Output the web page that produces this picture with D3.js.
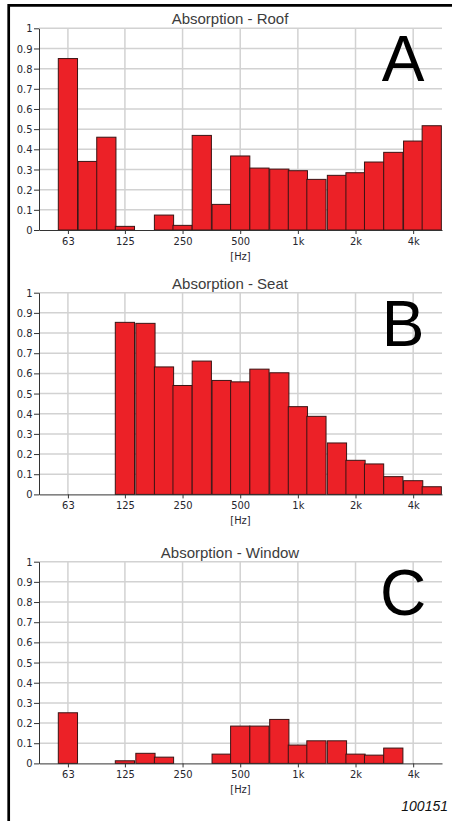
<!DOCTYPE html>
<html>
<head>
<meta charset="utf-8">
<script src="https://cdn.jsdelivr.net/npm/d3@7"></script>
<style>
  html, body { margin: 0; padding: 0; background: #fff; }
  svg { display: block; }
</style>
</head>
<body>
<svg id="chart" width="452" height="821"></svg>
<script>
// One-third-octave band centres (Hz)
const bandCenters = [63, 80, 100, 125, 160, 200, 250, 315, 400, 500, 630, 800, 1000, 1250, 1600, 2000, 2500, 3150, 4000, 5000];

// Absorption coefficients per band
const roofAbsorption   = [0.85, 0.34, 0.46, 0.018, 0, 0.074, 0.023, 0.469, 0.127, 0.367, 0.307, 0.302, 0.294, 0.251, 0.271, 0.284, 0.337, 0.385, 0.441, 0.517];
const seatAbsorption   = [0, 0, 0, 0.853, 0.848, 0.632, 0.540, 0.661, 0.565, 0.558, 0.621, 0.603, 0.435, 0.387, 0.255, 0.169, 0.151, 0.088, 0.068, 0.038];
const windowAbsorption = [0.251, 0, 0, 0.013, 0.050, 0.031, 0, 0, 0.046, 0.185, 0.185, 0.218, 0.091, 0.112, 0.112, 0.046, 0.041, 0.076, 0, 0];

const panelTitles  = ["Absorption - Roof", "Absorption - Seat", "Absorption - Window"];
const panelLetters = ["A", "B", "C"];

// Octave tick marks on the frequency axis
const xTickFreqs  = [63, 125, 250, 500, 1000, 2000, 4000];
const xTickLabels = ["63", "125", "250", "500", "1k", "2k", "4k"];
const yTickValues = [0, 0.1, 0.2, 0.3, 0.4, 0.5, 0.6, 0.7, 0.8, 0.9, 1];
const yTickLabels = ["0", "0.1", "0.2", "0.3", "0.4", "0.5", "0.6", "0.7", "0.8", "0.9", "1"];
const axisUnit = "[Hz]";
const figureId = "100151";

const series = [roofAbsorption, seatAbsorption, windowAbsorption];

// Layout
const plotLeft = 39, plotRight = 442, plotHeight = 201.7;
const panelTops = [28.3, 292.7, 561.7];
const bandHalf = Math.pow(2, 1 / 6);

const svg = d3.select("#chart");

// Outer frame (left and top edges)
svg.append("path")
  .attr("d", "M8.7,821 V5.3 H452")
  .attr("fill", "none")
  .attr("stroke", "#000")
  .attr("stroke-width", 2.7);

const x = d3.scaleLog().domain([44.5, 5657]).range([plotLeft, plotRight]);

const labelFont = "'DejaVu Sans Condensed', 'Liberation Sans', Arial, sans-serif";

series.forEach((values, i) => {
  const top = panelTops[i];
  const bottom = top + plotHeight;
  const y = d3.scaleLinear().domain([0, 1]).range([bottom, top]);
  const g = svg.append("g");

  // Grid
  g.append("g").selectAll("line.h")
    .data(yTickValues.filter(v => v > 0))
    .join("line")
    .attr("x1", plotLeft).attr("x2", plotRight)
    .attr("y1", d => y(d)).attr("y2", d => y(d))
    .attr("stroke", "#d2d2d2").attr("stroke-width", 1.5);
  g.append("g").selectAll("line.v")
    .data(xTickFreqs)
    .join("line")
    .attr("x1", d => x(d)).attr("x2", d => x(d))
    .attr("y1", top).attr("y2", bottom)
    .attr("stroke", "#d2d2d2").attr("stroke-width", 1.5);

  // Bars
  const bars = bandCenters.map((f, k) => ({ f, v: values[k] })).filter(d => d.v > 0);
  g.append("g").selectAll("rect")
    .data(bars)
    .join("rect")
    .attr("x", d => x(d.f / bandHalf))
    .attr("width", d => x(d.f * bandHalf) - x(d.f / bandHalf))
    .attr("y", d => y(d.v))
    .attr("height", d => y(0) - y(d.v))
    .attr("fill", "#ec2127")
    .attr("stroke", "#3a1414")
    .attr("stroke-width", 1);

  // Y axis
  const yAxis = d3.axisLeft(y)
    .tickValues(yTickValues)
    .tickFormat((d, k) => yTickLabels[k])
    .tickSizeInner(5).tickSizeOuter(0).tickPadding(1.5);
  const ya = g.append("g").attr("transform", `translate(${plotLeft},0)`).call(yAxis);
  ya.select(".domain").attr("stroke", "#333");
  ya.selectAll(".tick line").attr("stroke", "#333");
  ya.selectAll("text").attr("font-family", labelFont).attr("font-size", 11).attr("fill", "#26262e");

  // X axis
  const xAxis = d3.axisBottom(x)
    .tickValues(xTickFreqs)
    .tickFormat((d, k) => xTickLabels[k])
    .tickSizeInner(4).tickSizeOuter(0).tickPadding(3);
  const xa = g.append("g").attr("transform", `translate(0,${bottom})`).call(xAxis);
  xa.select(".domain").attr("stroke", "#333");
  xa.selectAll(".tick line").attr("stroke", "#333");
  xa.selectAll("text").attr("font-family", labelFont).attr("font-size", 11).attr("fill", "#26262e");

  g.append("text")
    .attr("x", (plotLeft + plotRight) / 2)
    .attr("y", bottom + 30)
    .attr("text-anchor", "middle")
    .attr("font-family", labelFont).attr("font-size", 11).attr("fill", "#26262e")
    .text(axisUnit);

  // Title
  g.append("text")
    .attr("x", 230)
    .attr("y", top - 4)
    .attr("text-anchor", "middle")
    .attr("font-family", "'Liberation Sans', Arial, sans-serif")
    .attr("font-size", 15).attr("fill", "#3c3c3c")
    .text(panelTitles[i]);

  // Panel letter
  g.append("text")
    .attr("x", 403)
    .attr("y", top + 53)
    .attr("text-anchor", "middle")
    .attr("font-family", "'Liberation Sans', Arial, sans-serif")
    .attr("font-size", 64).attr("fill", "#000")
    .text(panelLetters[i]);
});

svg.append("text")
  .attr("x", 448)
  .attr("y", 811)
  .attr("text-anchor", "end")
  .attr("font-family", "'Liberation Sans', Arial, sans-serif")
  .attr("font-style", "italic")
  .attr("font-size", 14)
  .attr("fill", "#111")
  .text(figureId);
</script>
</body>
</html>
